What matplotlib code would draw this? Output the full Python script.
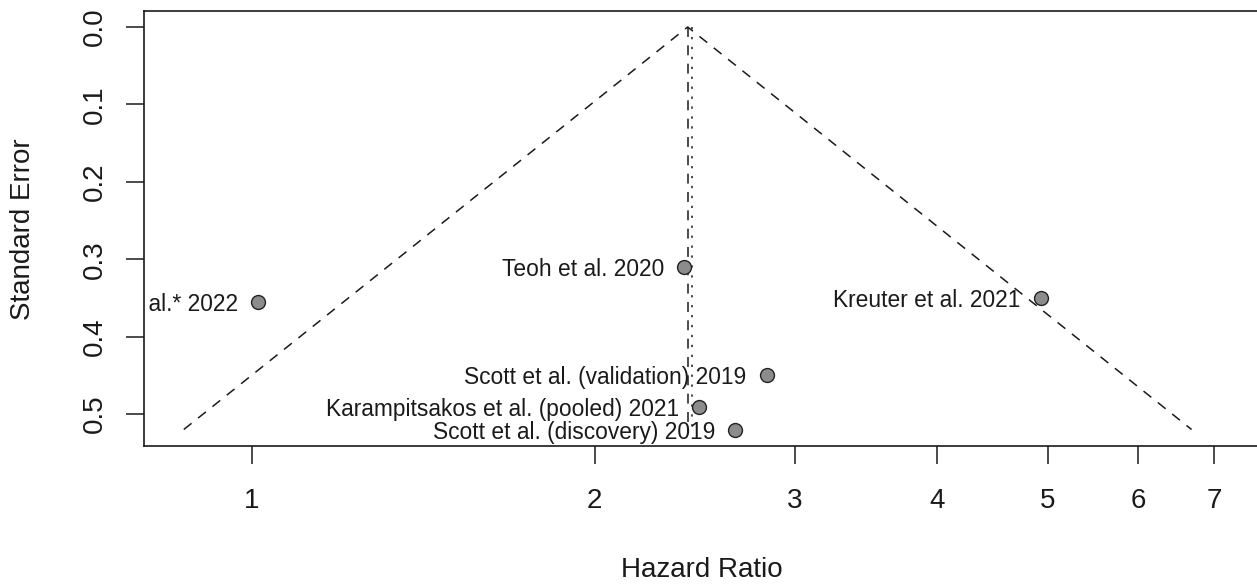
import numpy as np
import matplotlib
matplotlib.use("Agg")
import matplotlib.pyplot as plt

plt.rcParams['font.family'] = ['Liberation Sans', 'DejaVu Sans']

# ---- data ----
studies = ["et al.* 2022", "Teoh et al. 2020", "Kreuter et al. 2021",
           "Scott et al. (validation) 2019", "Karampitsakos et al. (pooled) 2021",
           "Scott et al. (discovery) 2019"]
hazard_ratio = [1.012, 2.397, 4.93, 2.832, 2.471, 2.656]
std_error = [0.355, 0.310, 0.350, 0.449, 0.491, 0.520]
pooled_hr = 2.414          # funnel centre / reference line
second_ref_hr = 2.434      # dotted reference line
se_max = 0.52
x_ticks = [1, 2, 3, 4, 5, 6, 7]
y_ticks = [0.0, 0.1, 0.2, 0.3, 0.4, 0.5]

W, H, DPI = 1257, 587, 100
fig = plt.figure(figsize=(W / DPI, H / DPI), dpi=DPI)

# axes box in pixels (R-style plot region; right edge falls just outside the image)
ln_left, ln_right = -0.2184, 2.04
px_per_ln = 494.4
left_px = 144.0
right_px = left_px + px_per_ln * (ln_right - ln_left)
top_px, bot_px = 10.9, 445.6
ax = fig.add_axes([left_px / W, 1 - bot_px / H, (right_px - left_px) / W, (bot_px - top_px) / H])

ax.set_xscale('log')
ax.set_xlim(np.exp(ln_left), np.exp(ln_right))
ax.set_ylim(0.5408, -0.0208)

lc = '#1a1a1a'
c = np.log(pooled_hr)
z = 1.96
ax.plot([np.exp(c - z * se_max), np.exp(c), np.exp(c + z * se_max)],
        [se_max, 0.0, se_max], color=lc, lw=1.1, linestyle=(0, (6.5, 5.5)), zorder=2)
ax.plot([pooled_hr, pooled_hr], [0.0, se_max], color=lc, lw=1.1,
        linestyle=(0, (6.5, 5.5)), zorder=2)
ax.plot([second_ref_hr, second_ref_hr], [0.0, se_max], color=lc, lw=1.1,
        linestyle=(0, (1.5, 5.0)), zorder=2)

ax.plot(hazard_ratio, std_error, linestyle='none', marker='o', ms=10,
        mfc='#8c8c8c', mec='#222222', mew=1.0, zorder=3)

for name, x, y in zip(studies, hazard_ratio, std_error):
    ax.annotate(name, xy=(x, y), xytext=(-14.4, 0), textcoords='offset points',
                ha='right', va='center_baseline', fontsize=16.4, color='#1a1a1a',
                clip_on=True, annotation_clip=True)

ax.set_xticks(x_ticks)
ax.set_xticklabels([str(t) for t in x_ticks])
ax.xaxis.set_minor_locator(matplotlib.ticker.NullLocator())
ax.set_yticks(y_ticks)
ax.set_yticklabels([f"{t:.1f}" for t in y_ticks], rotation=90, va='center')

ax.tick_params(axis='both', direction='out', length=12.7, width=1.1, color=lc,
               labelsize=20, labelcolor='#1a1a1a')
ax.tick_params(axis='x', pad=17.5)
ax.tick_params(axis='y', pad=13)
for s in ax.spines.values():
    s.set_linewidth(1.2)
    s.set_color(lc)

fig.text(23 / W, 1 - 229 / H, "Standard Error", rotation=90, ha='center', va='center',
         fontsize=20, color='#1a1a1a')
fig.text(701.7 / W, 1 - 570 / H, "Hazard Ratio", ha='center', va='center',
         fontsize=20, color='#1a1a1a')

fig.savefig("out.png", dpi=DPI)
